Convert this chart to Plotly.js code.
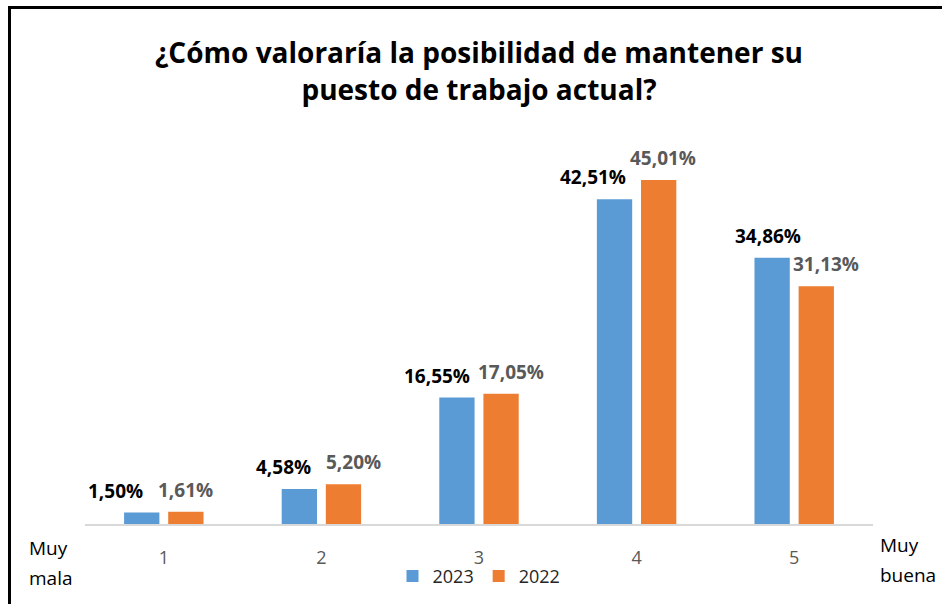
<!DOCTYPE html>
<html>
<head>
<meta charset="utf-8">
<script src="https://cdn.plot.ly/plotly-3.0.1.min.js"></script>
<style>
  html, body { margin: 0; padding: 0; background: #fff; }
  #wrap { position: relative; width: 942px; height: 604px; }
  #chart { width: 942px; height: 604px; }
  #frame { position: absolute; left: 8px; top: 6px; width: 940px; height: 600px;
           border-top: 3px solid #000; border-left: 3px solid #000; pointer-events: none; }
</style>
</head>
<body>
<div id="wrap"><div id="chart"></div><div id="frame"></div></div>
<script>
const categories = ['1', '2', '3', '4', '5'];
const values2023 = [1.50, 4.58, 16.55, 42.51, 34.86];
const values2022 = [1.61, 5.20, 17.05, 45.01, 31.13];
const labels2023 = ['1,50%', '4,58%', '16,55%', '42,51%', '34,86%'];
const labels2022 = ['1,61%', '5,20%', '17,05%', '45,01%', '31,13%'];
const seriesNames = ['2023', '2022'];
const titleText = '¿Cómo valoraría la posibilidad de mantener su<br>puesto de trabajo actual?';

// label horizontal offsets in px (layout only)
const shift2023 = [-48, -38, -42, -44, -26];
const shift2022 = [22, 32, 32, 26, 32];

const FONT = 'Open Sans, Noto Sans, sans-serif';

const traces = [
  { type: 'bar', name: seriesNames[0], x: categories, y: values2023,
    marker: { color: '#5B9BD5' }, hoverinfo: 'skip' },
  { type: 'bar', name: seriesNames[1], x: categories, y: values2022,
    marker: { color: '#ED7D31' }, hoverinfo: 'skip' }
];

const annotations = [];
categories.forEach((c, i) => {
  annotations.push({ x: i, y: values2023[i], xref: 'x', yref: 'y', text: labels2023[i],
    showarrow: false, xshift: shift2023[i], yshift: 22, yanchor: 'middle',
    font: { family: FONT, size: 19, color: '#000000', weight: 'bold' } });
  annotations.push({ x: i, y: values2022[i], xref: 'x', yref: 'y', text: labels2022[i],
    showarrow: false, xshift: shift2022[i], yshift: 22, yanchor: 'middle',
    font: { family: FONT, size: 19, color: '#595959', weight: 'bold' } });
});
function sideText(txt, xPx, yPx) {
  return { xref: 'paper', yref: 'paper', x: (xPx - 85) / 788, y: (524 - yPx) / 382,
    xanchor: 'left', yanchor: 'middle', showarrow: false, text: txt,
    font: { family: FONT, size: 19, color: '#000' } };
}
annotations.push(sideText('Muy', 27, 548));
annotations.push(sideText('mala', 27, 578));
annotations.push(sideText('Muy', 878, 545));
annotations.push(sideText('buena', 878, 575));

const layout = {
  width: 942, height: 604,
  margin: { l: 85, r: 69, t: 142, b: 80 },
  paper_bgcolor: '#ffffff', plot_bgcolor: '#ffffff',
  barmode: 'group', bargap: 0.44, bargroupgap: 0.2,
  title: { text: titleText, x: 0.5, xref: 'paper', xanchor: 'center',
           y: 0.895, yref: 'container', yanchor: 'middle',
           font: { family: FONT, size: 28, color: '#000', weight: 'bold' } },
  xaxis: { type: 'category', range: [-0.5, 4.5], showline: true, linecolor: '#D9D9D9', linewidth: 2,
           ticks: '', showgrid: false, zeroline: false,
           tickfont: { family: FONT, size: 18, color: '#595959' }, ticklabelstandoff: 16 },
  yaxis: { range: [0, 50], visible: false, showgrid: false, zeroline: false },
  showlegend: true,
  legend: { orientation: 'h', x: 0.5, xanchor: 'center', xref: 'paper',
            y: 0.046, yref: 'container', yanchor: 'middle', bgcolor: 'rgba(0,0,0,0)',
            font: { family: FONT, size: 18, color: '#262626' }, itemwidth: 30 },
  annotations: annotations
};

Plotly.newPlot('chart', traces, layout, { displayModeBar: false, staticPlot: true });
</script>
</body>
</html>
